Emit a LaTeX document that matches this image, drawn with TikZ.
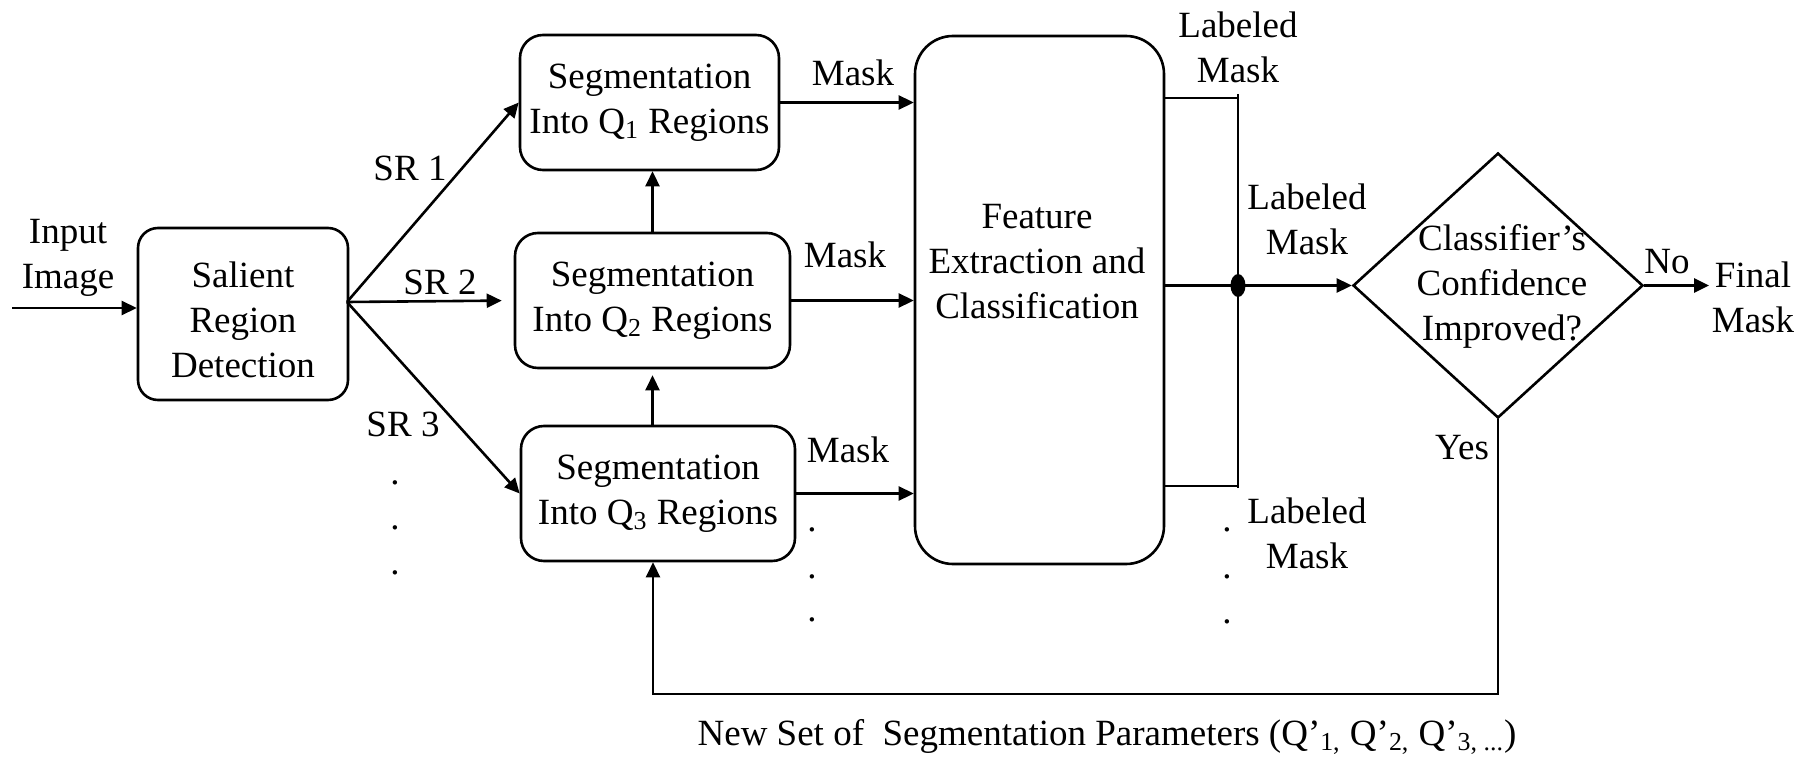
\documentclass[tikz,border=0pt]{standalone}
\usepackage{fontspec}
\setmainfont{Liberation Serif}
\usetikzlibrary{arrows.meta,shapes.geometric,calc}
\begin{document}
\begin{tikzpicture}[x=0.5pt,y=-0.5pt,
  font=\fontsize{18.5}{22.5}\selectfont,
  line width=1.3pt,
  box/.style={draw, align=center, inner sep=0pt},
  arr/.style={-{Triangle[length=7.5pt,width=7pt]}},
  lbl/.style={inner sep=0pt, align=center}]
\useasboundingbox (0,0) rectangle (1806,765);
% boxes
\node[box, rounded corners=10pt, minimum width=105pt, minimum height=86pt] (sal) at (243,314) {};
\node[lbl] (saltxt) at (243,320) {Salient\\Region\\Detection};
\node[box, rounded corners=11.5pt, minimum width=129.5pt, minimum height=67.5pt] (q1) at (649.5,102.5) {Segmentation\\Into Q\textsubscript{1} Regions};
\node[box, rounded corners=11.5pt, minimum width=137.5pt, minimum height=67.5pt] (q2) at (652.5,300.5) {Segmentation\\Into Q\textsubscript{2} Regions};
\node[box, rounded corners=11.5pt, minimum width=137pt, minimum height=67.5pt] (q3) at (658,493.5) {Segmentation\\Into Q\textsubscript{3} Regions};
\node[box, rounded corners=19pt, minimum width=124.5pt, minimum height=264pt] (feat) at (1039.5,300) {};
\node[lbl] (feattxt) at (1037,262) {Feature\\Extraction and\\Classification};
\node[diamond, draw, minimum width=145pt, minimum height=132.5pt, inner sep=0pt] (dec) at (1498,285.5) {};
\node[lbl] (dectxt) at (1502,286) {Classifier’s\\Confidence\\Improved?};
% labels
\node[lbl] (inlbl) at (68,258) {Input\\Image};
\node[lbl] (sr1) at (410,168) {SR 1};
\node[lbl] (sr2) at (440,282) {SR 2};
\node[lbl] (sr3) at (403,424) {SR 3};
\node[lbl] (m1) at (853,73) {Mask};
\node[lbl] (m2) at (845,255) {Mask};
\node[lbl] (m3) at (848,450) {Mask};
\node[lbl] (lm1) at (1238,47) {Labeled\\Mask};
\node[lbl] (lm2) at (1307,219) {Labeled\\Mask};
\node[lbl] (lm3) at (1307,533) {Labeled\\Mask};
\node[lbl] (nolbl) at (1667,262) {No};
\node[lbl] (final) at (1753,297) {Final\\Mask};
\node[lbl] (yes) at (1462,448) {Yes};
\node[lbl] (newset) at (1107,737) {New Set of\ \ Segmentation Parameters (Q’\textsubscript{1,} Q’\textsubscript{2,} Q’\textsubscript{3, ...})};
% dots
\foreach \i/\yy in {1/483,2/528,3/573}{\node[lbl] (da\i) at (395,\yy) {.};}
\foreach \i/\yy in {1/530,2/577,3/620}{\node[lbl] (db\i) at (812,\yy) {.};}
\foreach \i/\yy in {1/530,2/577,3/622}{\node[lbl] (dc\i) at (1227,\yy) {.};}
% connectors
\coordinate (inp) at (12,308);
\draw[arr] (inp) -- (inp -| sal.west);
\coordinate (fork) at (347,302);
\draw[arr] (fork) -- (q1.west);
\draw[arr, shorten >=6pt] (fork) -- (q2.west);
\draw[arr] (fork) -- (q3.west);
\draw[arr] (q2.north) -- (q2.north |- q1.south);
\draw[arr, shorten >=3pt] (q2.south |- q3.north) -- (q2.south);
\draw[arr] (q1.east) -- (q1.east -| feat.west);
\draw[arr] (q2.east) -- (q2.east -| feat.west);
\draw[arr] (q3.east) -- (q3.east -| feat.west);
% bracket
\coordinate (bt) at (1238,98);
\coordinate (bb) at (1238,486);
\draw (feat.east |- bt) -- (bt);
\draw (feat.east |- bb) -- (bb);
\draw ($(bt)+(0,-4)$) -- ($(bb)+(0,2)$);
\draw[arr] (feat.east |- dec.west) -- (dec.west);
\fill (bt |- dec.west) ellipse [x radius=7.5, y radius=11.5];
% decision outputs
\draw[arr] (dec.east) -- (1709,285.5) coordinate (fin);
\coordinate (fbr) at (1498,694);
\coordinate (fbl) at (653,694);
\draw[arr] (dec.south) -- (fbr) -- (fbl) -- (fbl |- q3.south);
\end{tikzpicture}
\end{document}
